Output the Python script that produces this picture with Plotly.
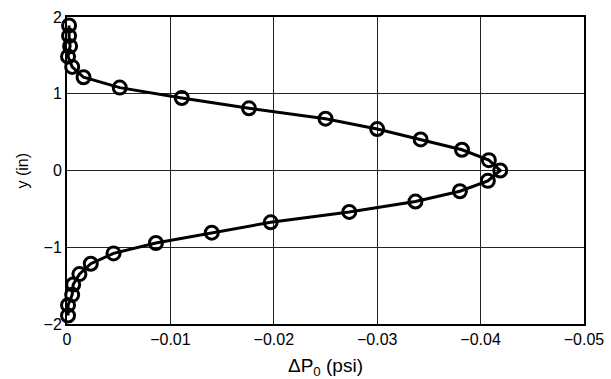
import plotly.graph_objects as go

dp = [-0.0002, -0.0002, -0.0003, -0.0001, -0.0005, -0.0016, -0.0051, -0.0111, -0.0176,
      -0.0250, -0.0300, -0.0342, -0.0382, -0.0408, -0.0419,
      -0.0407, -0.0380, -0.0337, -0.0273, -0.0197, -0.0140, -0.0086, -0.0045,
      -0.0023, -0.0012, -0.0006, -0.0005, -0.0001, -0.0001]
y = [1.89, 1.755, 1.62, 1.485, 1.35, 1.215, 1.08, 0.945, 0.81,
     0.675, 0.54, 0.405, 0.27, 0.135, 0.0,
     -0.135, -0.27, -0.405, -0.54, -0.675, -0.81, -0.945, -1.08,
     -1.215, -1.35, -1.485, -1.62, -1.755, -1.89]

xticks = [0, -0.01, -0.02, -0.03, -0.04, -0.05]
xticklabels = ["0", "\u22120.01", "\u22120.02", "\u22120.03", "\u22120.04", "\u22120.05"]
yticks = [-2, -1, 0, 1, 2]
yticklabels = ["\u22122", "\u22121", "0", "1", "2"]

fig = go.Figure()
fig.add_trace(go.Scatter(
    x=dp, y=y, mode="lines+markers",
    line=dict(color="black", width=3),
    marker=dict(symbol="circle-open", size=13, color="black", line=dict(width=3)),
    showlegend=False, cliponaxis=False,
))

font = dict(family="Liberation Sans, Arial, sans-serif", size=16, color="black")
fig.update_layout(
    width=611, height=379,
    margin=dict(l=67, r=27, t=17, b=55),
    paper_bgcolor="white", plot_bgcolor="white",
    font=font,
)
fig.update_xaxes(
    range=[0, -0.05], tickvals=xticks, ticktext=xticklabels,
    showgrid=True, gridcolor="#222", gridwidth=1,
    showline=True, linecolor="black", linewidth=2, mirror=True,
    ticks="", zeroline=False, automargin=False,
    title=dict(text="\u0394P<sub>0</sub> (psi)"),
)
fig.update_yaxes(
    range=[-2, 2], tickvals=yticks, ticktext=yticklabels,
    showgrid=True, gridcolor="#222", gridwidth=1,
    showline=True, linecolor="black", linewidth=2, mirror=True,
    ticks="", zeroline=False, automargin=False,
)
fig.add_annotation(
    text="y (in)", xref="paper", yref="paper", x=0, y=0.5,
    xshift=-45, textangle=-90, showarrow=False, xanchor="center", yanchor="middle",
    font=font,
)
fig.write_html("out.html")
